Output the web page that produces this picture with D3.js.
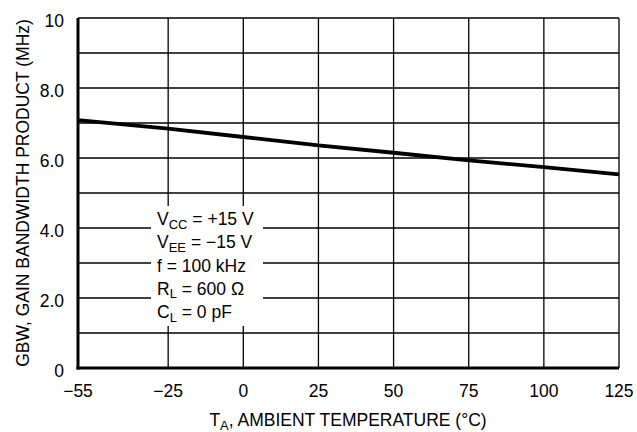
<!DOCTYPE html>
<html>
<head>
<meta charset="utf-8">
<script src="https://cdn.jsdelivr.net/npm/d3@7"></script>
<style>
  html, body { margin: 0; padding: 0; background: #fff; }
  svg { display: block; }
  text { font-family: "Liberation Sans Narrow", "Arial Narrow", "Liberation Sans", Arial, sans-serif; fill: #000; }
</style>
</head>
<body>
<svg id="chart" width="637" height="432"></svg>
<script>
// Data
const temperatures = [-55, -25, 0, 25, 50, 75, 100, 125];
const gbw = [7.08, 6.84, 6.6, 6.36, 6.15, 5.93, 5.74, 5.53];
const xTicks = [-55, -25, 0, 25, 50, 75, 100, 125];
const xTickLabels = ["\u221255", "\u221225", "0", "25", "50", "75", "100", "125"];
const yGrid = [0, 1, 2, 3, 4, 5, 6, 7, 8, 9, 10];
const yTicks = [0, 2, 4, 6, 8, 10];
const yTickLabels = ["0", "2.0", "4.0", "6.0", "8.0", "10"];
const conditions = [
  ["V", "CC", " = +15 V"],
  ["V", "EE", " = \u221215 V"],
  ["f = 100 kHz", "", ""],
  ["R", "L", " = 600 \u03A9"],
  ["C", "L", " = 0 pF"]
];

const svg = d3.select("#chart");
const m = { left: 78, right: 619, top: 18, bottom: 368 };

const x = d3.scaleLinear().domain([-55, 125]).range([m.left, m.right]);
const y = d3.scaleLinear().domain([0, 10]).range([m.bottom, m.top]);

// Grid
const g = svg.append("g");
g.selectAll("line.v").data(xTicks).enter().append("line")
  .attr("x1", d => x(d)).attr("x2", d => x(d))
  .attr("y1", m.top).attr("y2", m.bottom)
  .attr("stroke", "#000").attr("stroke-width", 1.3);
g.selectAll("line.h").data(yGrid).enter().append("line")
  .attr("x1", m.left).attr("x2", m.right)
  .attr("y1", d => y(d)).attr("y2", d => y(d))
  .attr("stroke", "#000").attr("stroke-width", 1.3);

// Conditions box (white background hides grid)
const boxX = 151, boxY = 206, boxW = 112, boxH = 120;
svg.append("rect").attr("x", boxX).attr("y", boxY).attr("width", boxW).attr("height", boxH).attr("fill", "#fff");

const cond = svg.append("g");
conditions.forEach((c, i) => {
  const t = cond.append("text")
    .attr("x", 157).attr("y", 225 + i * 23.3)
    .attr("font-size", 17.5);
  t.append("tspan").text(c[0]);
  if (c[1]) {
    t.append("tspan").attr("font-size", 13).attr("dy", 3.5).text(c[1]);
    t.append("tspan").attr("dy", -3.5).text(c[2]);
  }
});

// Axes (thick left and bottom)
svg.append("line").attr("x1", m.left).attr("x2", m.left).attr("y1", m.top).attr("y2", m.bottom + 1.5)
  .attr("stroke", "#000").attr("stroke-width", 3);
svg.append("line").attr("x1", m.left - 1.5).attr("x2", m.right).attr("y1", m.bottom).attr("y2", m.bottom)
  .attr("stroke", "#000").attr("stroke-width", 3);

// Data line
const line = d3.line().x((d, i) => x(temperatures[i])).y(d => y(d));
svg.append("path").datum(gbw).attr("d", line)
  .attr("fill", "none").attr("stroke", "#000").attr("stroke-width", 3.8);

// Y tick labels
svg.append("g").selectAll("text").data(yTicks).enter().append("text")
  .attr("x", 64).attr("y", d => y(d) + 8.5)
  .attr("text-anchor", "end").attr("font-size", 17.5)
  .text((d, i) => yTickLabels[i]);

// X tick labels
svg.append("g").selectAll("text").data(xTicks).enter().append("text")
  .attr("x", d => x(d)).attr("y", 397)
  .attr("text-anchor", "middle").attr("font-size", 17.5)
  .text((d, i) => xTickLabels[i]);

// X title
const xt = svg.append("text").attr("x", 348).attr("y", 426).attr("text-anchor", "middle").attr("font-size", 17.5);
xt.append("tspan").text("T");
xt.append("tspan").attr("font-size", 13).attr("dy", 3.5).text("A");
xt.append("tspan").attr("dy", -3.5).text(", AMBIENT TEMPERATURE (\u00B0C)");

// Y title
svg.append("text")
  .attr("transform", "translate(29,193) rotate(-90)")
  .attr("text-anchor", "middle").attr("font-size", 17.5)
  .text("GBW, GAIN BANDWIDTH PRODUCT (MHz)");
</script>
</body>
</html>
